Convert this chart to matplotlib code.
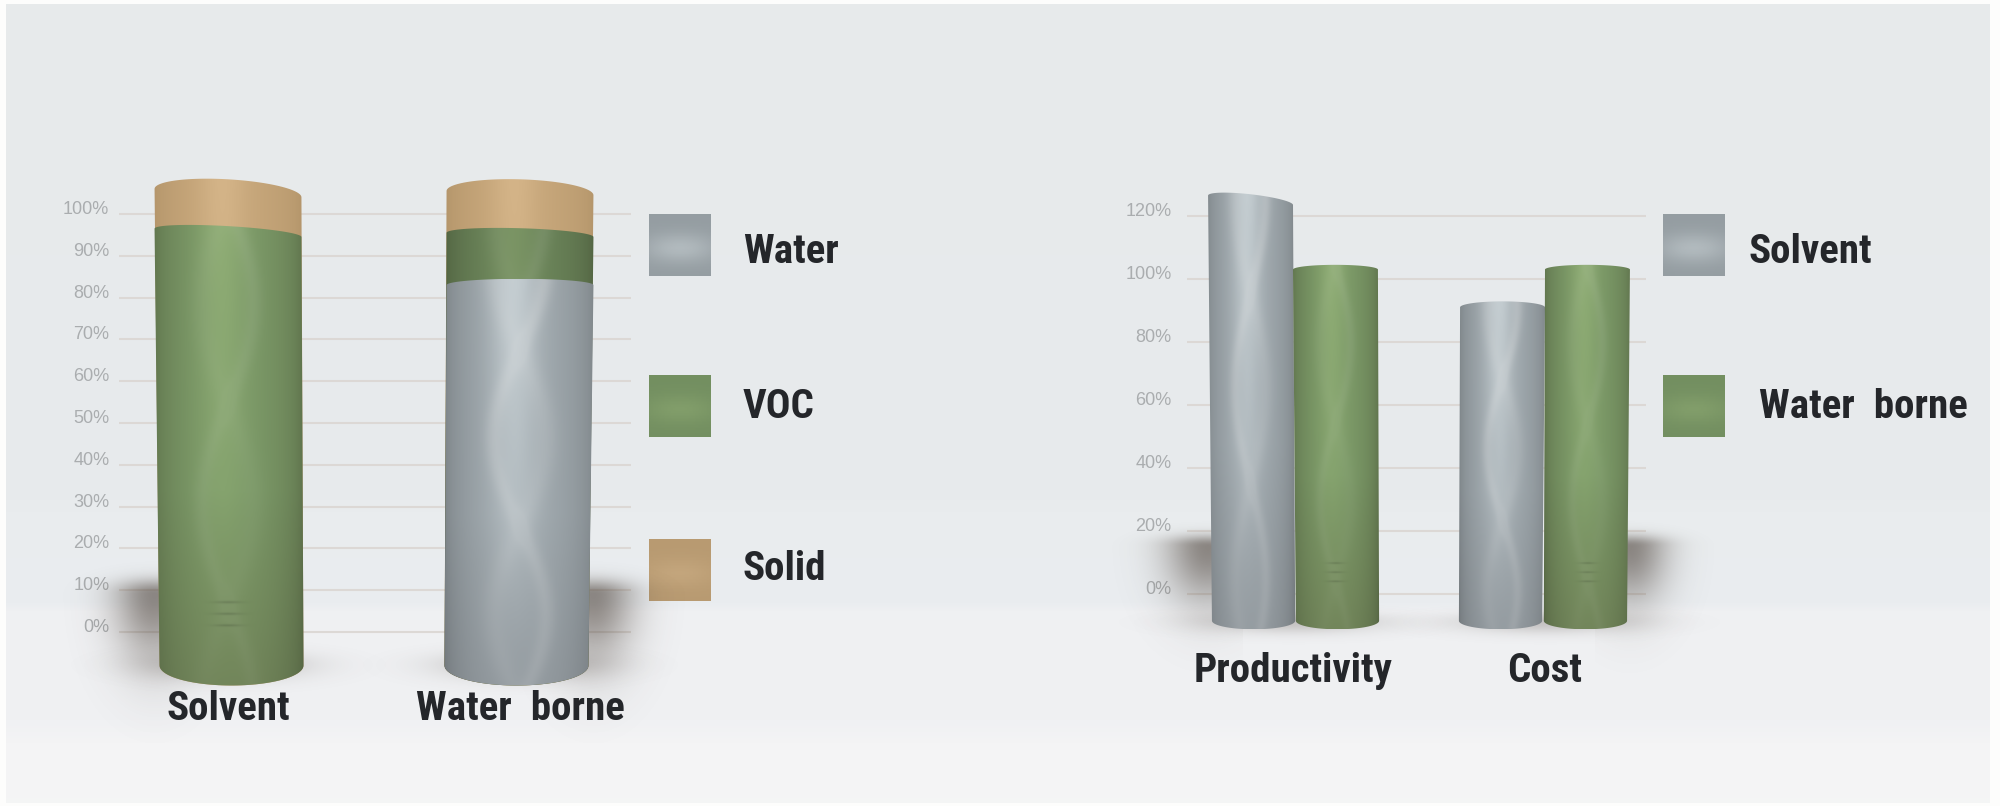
import numpy as np
import matplotlib
matplotlib.use('Agg')
import matplotlib.pyplot as plt
from matplotlib.patches import PathPatch
from matplotlib.path import Path
from matplotlib.transforms import ScaledTranslation

W, H = 2000, 806
FONT = ['Roboto Condensed', 'Liberation Sans', 'DejaVu Sans']
NAME_SIZE = 29.5

# stacked chart, levels of the top of every layer on the percent axis
stack_categories = ['Solvent', 'Water  borne']
stack_base = -8
water_top = [-8, 83]
voc_top = [95.5, 95]
solid_top = [105, 105]
stack_ticks = [0, 10, 20, 30, 40, 50, 60, 70, 80, 90, 100]
stack_legend = ['Water', 'VOC', 'Solid']

# grouped chart
group_categories = ['Productivity', 'Cost']
group_base = -8.5
solvent_values = [125, 91]
waterborne_values = [103, 103]
group_ticks = [0, 20, 40, 60, 80, 100, 120]
group_legend = ['Solvent', 'Water  borne']

SILVER = dict(edge=(112, 118, 122), mid=(160, 169, 174), hi=(196, 205, 209), foot=(146, 153, 158),
              streak=0.24, marks=False)
GREEN = dict(edge=(84, 100, 66), mid=(124, 154, 104), hi=(142, 172, 116), foot=(112, 130, 88),
             streak=0.08, marks=True)
TAN = dict(edge=(172, 142, 100), mid=(198, 166, 122), hi=(212, 180, 136), foot=(198, 166, 122),
           streak=0.0, marks=False)


def cylinder_texture(colors, phase=0.0, shade=1.0, nx=220, ny=500):
    u = np.linspace(0, 1, nx)[None, :]
    v = np.linspace(0, 1, ny)[:, None]
    body = np.sin(np.pi * u) ** 0.38
    glow = np.exp(-((u - 0.46) / 0.16) ** 2)
    foot = np.clip(1 - v / 0.42, 0, 1) * 0.85
    img = np.zeros((ny, nx, 3))
    for i in range(3):
        side = colors['edge'][i] + (colors['mid'][i] - colors['edge'][i]) * body
        side = side + (colors['hi'][i] - colors['mid'][i]) * glow * (0.15 + 0.85 * v)
        low = colors['edge'][i] * 0.9 + (colors['foot'][i] - colors['edge'][i] * 0.9) * body
        img[..., i] = (side * (1 - foot) + low * foot) * shade
    # pale wavy folds in the foil
    a = 0.5 + 0.17 * np.sin(2 * np.pi * (v * 1.15 + phase))
    b = 0.5 - 0.17 * np.sin(2 * np.pi * (v * 1.15 + phase))
    folds = np.exp(-((u - a) / 0.06) ** 2) + 0.6 * np.exp(-((u - b) / 0.08) ** 2)
    folds = np.clip(folds, 0, 1) * colors['streak'] * (0.5 + 0.5 * v)
    img = img + (235 - img) * folds[..., None]
    # small creases low on the green foil
    if colors['marks']:
        for level in (0.13, 0.155, 0.18):
            crease = np.exp(-((v - level) / 0.0025) ** 2) * np.exp(-((u - 0.5) / 0.09) ** 2)
            img *= (1 - 0.14 * crease)[..., None]
    return np.clip(img, 0, 255).astype(np.uint8)


def side_path(cx, width, low, high, ry_low, ry_high, lean=0.0, tilt=0.0):
    t = np.linspace(np.pi, 0, 60)
    top_x = cx + width / 2 * np.cos(t)
    top_y = high + ry_high * np.sin(t) + tilt * np.cos(t)
    t = np.linspace(0, -np.pi, 60)
    foot_x = cx + lean + width * 0.49 * np.cos(t)
    foot_y = low + ry_low * np.sin(t)
    xy = np.column_stack([np.r_[top_x, foot_x], np.r_[top_y, foot_y]])
    return Path(np.vstack([xy, xy[0]]), closed=True)


def draw_layer(ax, cx, width, low, high, ry_low, ry_high, colors, lean=0.0, tilt=0.0,
               phase=0.0, shade=1.0, z=3):
    path = side_path(cx, width, low, high, ry_low, ry_high, lean, tilt)
    im = ax.imshow(cylinder_texture(colors, phase, shade), origin='lower', aspect='auto',
                   interpolation='bilinear', zorder=z,
                   extent=(cx - width / 2 - abs(lean), cx + width / 2 + abs(lean),
                           low - ry_low, high + ry_high + abs(tilt)))
    im.set_clip_path(PathPatch(path, transform=ax.transData))


def soft_shadow(ax, x0, x1, y0, y1, xc, yc, sx, sy_up, sy_down, strength):
    x = np.linspace(x0, x1, 200)[None, :]
    y = np.linspace(y0, y1, 200)[:, None]
    sy = np.where(y > yc, sy_up, sy_down)
    alpha = strength * np.exp(-((x - xc) / sx) ** 2 - ((y - yc) / sy) ** 2)
    img = np.zeros((200, 200, 4))
    img[..., 0], img[..., 1], img[..., 2] = 0.30, 0.26, 0.23
    img[..., 3] = alpha
    im = ax.imshow(img, origin='lower', aspect='auto', extent=(x0, x1, y0, y1), zorder=2,
                   interpolation='bilinear')
    im.set_clip_on(False)


def chart_axes(fig, left, right, zero_px, per_cent, bottom, top, first_px, unit_px, ticks, pad):
    ax = fig.add_axes([left / W, 1 - bottom / H, (right - left) / W, (bottom - top) / H])
    ax.patch.set_visible(False)
    for side in ax.spines.values():
        side.set_visible(False)
    xlim = ((left - first_px) / unit_px, (right - first_px) / unit_px)
    ylim = ((zero_px - bottom) / per_cent, (zero_px - top) / per_cent)
    ax.set_yticks(ticks)
    ax.set_yticklabels([f'{t}%' for t in ticks], family='Liberation Sans', fontsize=13,
                       color='#aaadaf')
    ax.tick_params(length=0)
    ax.tick_params(axis='y', pad=pad)
    ax.yaxis.grid(True, color='#dcd8d5', lw=1.5)
    ax.set_axisbelow(True)
    shift = ScaledTranslation(0, 6.5 / 100, fig.dpi_scale_trans)
    for lab in ax.get_yticklabels():
        lab.set_transform(lab.get_transform() + shift)
    return ax, xlim, ylim


def category_labels(ax, categories, pad):
    ax.set_xticks(range(len(categories)))
    ax.set_xticklabels(categories, family=FONT, fontweight='bold', fontsize=NAME_SIZE,
                       color='#24262a')
    ax.tick_params(axis='x', pad=pad)


fig = plt.figure(figsize=(W / 100, H / 100), dpi=100, facecolor='#fdfdfc')

# page background with its soft horizontal bands
bg = fig.add_axes([0, 0, 1, 1], zorder=0)
bg.set_xlim(0, W)
bg.set_ylim(H, 0)
bg.axis('off')
rows = np.arange(H)
stops_y = [5, 500, 512, 604, 612, 722, 745, 800]
stops_c = [(231, 234, 235), (232, 235, 237), (233, 236, 238), (234, 237, 240),
           (239, 240, 242), (240, 241, 243), (244, 244, 245), (244, 245, 245)]
page = np.stack([np.interp(rows, stops_y, [c[i] for c in stops_c]) for i in range(3)], axis=1)
bg.imshow(page[:, None, :].astype(np.uint8), extent=(6, 1990, 803, 4), aspect='auto', zorder=0)


# legend swatches and names
def swatch(x0, y0, colors):
    u = np.linspace(0, 1, 40)[None, :]
    v = np.linspace(0, 1, 40)[:, None]
    band = np.exp(-((v - 0.55) / 0.25) ** 2) * (0.5 + 0.5 * np.sin(np.pi * u))
    img = np.zeros((40, 40, 3))
    for i in range(3):
        img[..., i] = colors['mid'][i] * 0.93 + (colors['hi'][i] - colors['mid'][i]) * band * 0.8
    bg.imshow(np.clip(img, 0, 255).astype(np.uint8), extent=(x0, x0 + 62, y0 + 62, y0),
              aspect='auto', zorder=1)


swatch_y = [214, 375, 539]
name_y = [252, 407, 569]
for name, colors, y, ty in zip(stack_legend, [SILVER, GREEN, TAN], swatch_y, name_y):
    swatch(649, y, colors)
    bg.text(743, ty, name, family=FONT, fontweight='bold', fontsize=NAME_SIZE, color='#24262a',
            va='center', ha='left', zorder=2)
for name, colors, y, ty, tx in zip(group_legend, [SILVER, GREEN], swatch_y, name_y, [1749, 1759]):
    swatch(1663, y, colors)
    bg.text(tx, ty, name, family=FONT, fontweight='bold', fontsize=NAME_SIZE, color='#24262a',
            va='center', ha='left', zorder=2)
bg.set_xlim(0, W)
bg.set_ylim(H, 0)

# stacked cylinders
ax1, xlim1, ylim1 = chart_axes(fig, 119, 631, 632, 4.18, 690, 150, 228, 292, stack_ticks, 7)
ax1.set_zorder(1)
bar_w = 0.503
leans = [0.012, -0.012]
tilts = [-1.0, -0.5]
phases = [0.30, 0.05]
soft_shadow(ax1, -0.8, 0.3, -30, 30, -bar_w / 2, 9, 0.14, 3.5, 16, 0.60)
soft_shadow(ax1, 0.7, 1.8, -30, 30, 1 + bar_w / 2, 9, 0.14, 3.5, 16, 0.60)
for i in range(2):
    soft_shadow(ax1, i - 0.6, i + 0.6, -25, 10, i, -8, 0.26, 3, 3.5, 0.30)
    low = stack_base
    draw_layer(ax1, i, bar_w, low, solid_top[i], 4.8, 3.3, TAN, leans[i], tilts[i], 0, 1.0, 3.0)
    voc_shade = 1.0 if water_top[i] <= stack_base else 0.86
    draw_layer(ax1, i, bar_w, low, voc_top[i], 4.8, 1.6, GREEN, leans[i], tilts[i], phases[i],
               voc_shade, 3.1)
    if water_top[i] > stack_base:
        draw_layer(ax1, i, bar_w, low, water_top[i], 4.8, 1.5, SILVER, leans[i], 0, phases[i],
                   1.0, 3.2)
category_labels(ax1, stack_categories, 0)
ax1.set_xlim(xlim1)
ax1.set_ylim(ylim1)

# grouped cylinders
ax2, xlim2, ylim2 = chart_axes(fig, 1187, 1646, 594, 3.15, 652, 170, 1293, 252, group_ticks, 11)
ax2.set_zorder(1)
bar_w2 = 0.337
soft_shadow(ax2, -1.1, -0.2, -35, 40, -bar_w2, 15, 0.17, 3.5, 18, 0.60)
soft_shadow(ax2, 1.2, 2.0, -35, 40, 1 + bar_w2, 15, 0.15, 3.5, 18, 0.60)
for i in range(2):
    soft_shadow(ax2, i - 0.7, i + 0.7, -28, 10, i, -9, 0.34, 3, 3.5, 0.26)
    draw_layer(ax2, i - bar_w2 / 2, bar_w2, group_base, solvent_values[i], 2.7, 1.9, SILVER,
               0.012 if i == 0 else -0.008, -1.5 if i == 0 else 0, 0.12, 1.0, 3.0)
    draw_layer(ax2, i + bar_w2 / 2, bar_w2, group_base, waterborne_values[i], 2.7, 1.5, GREEN,
               0.008 if i == 0 else -0.008, 0, 0.35, 1.0, 3.1)
category_labels(ax2, group_categories, 0)
ax2.set_xlim(xlim2)
ax2.set_ylim(ylim2)

fig.savefig('out.png', dpi=100, facecolor=fig.get_facecolor())
